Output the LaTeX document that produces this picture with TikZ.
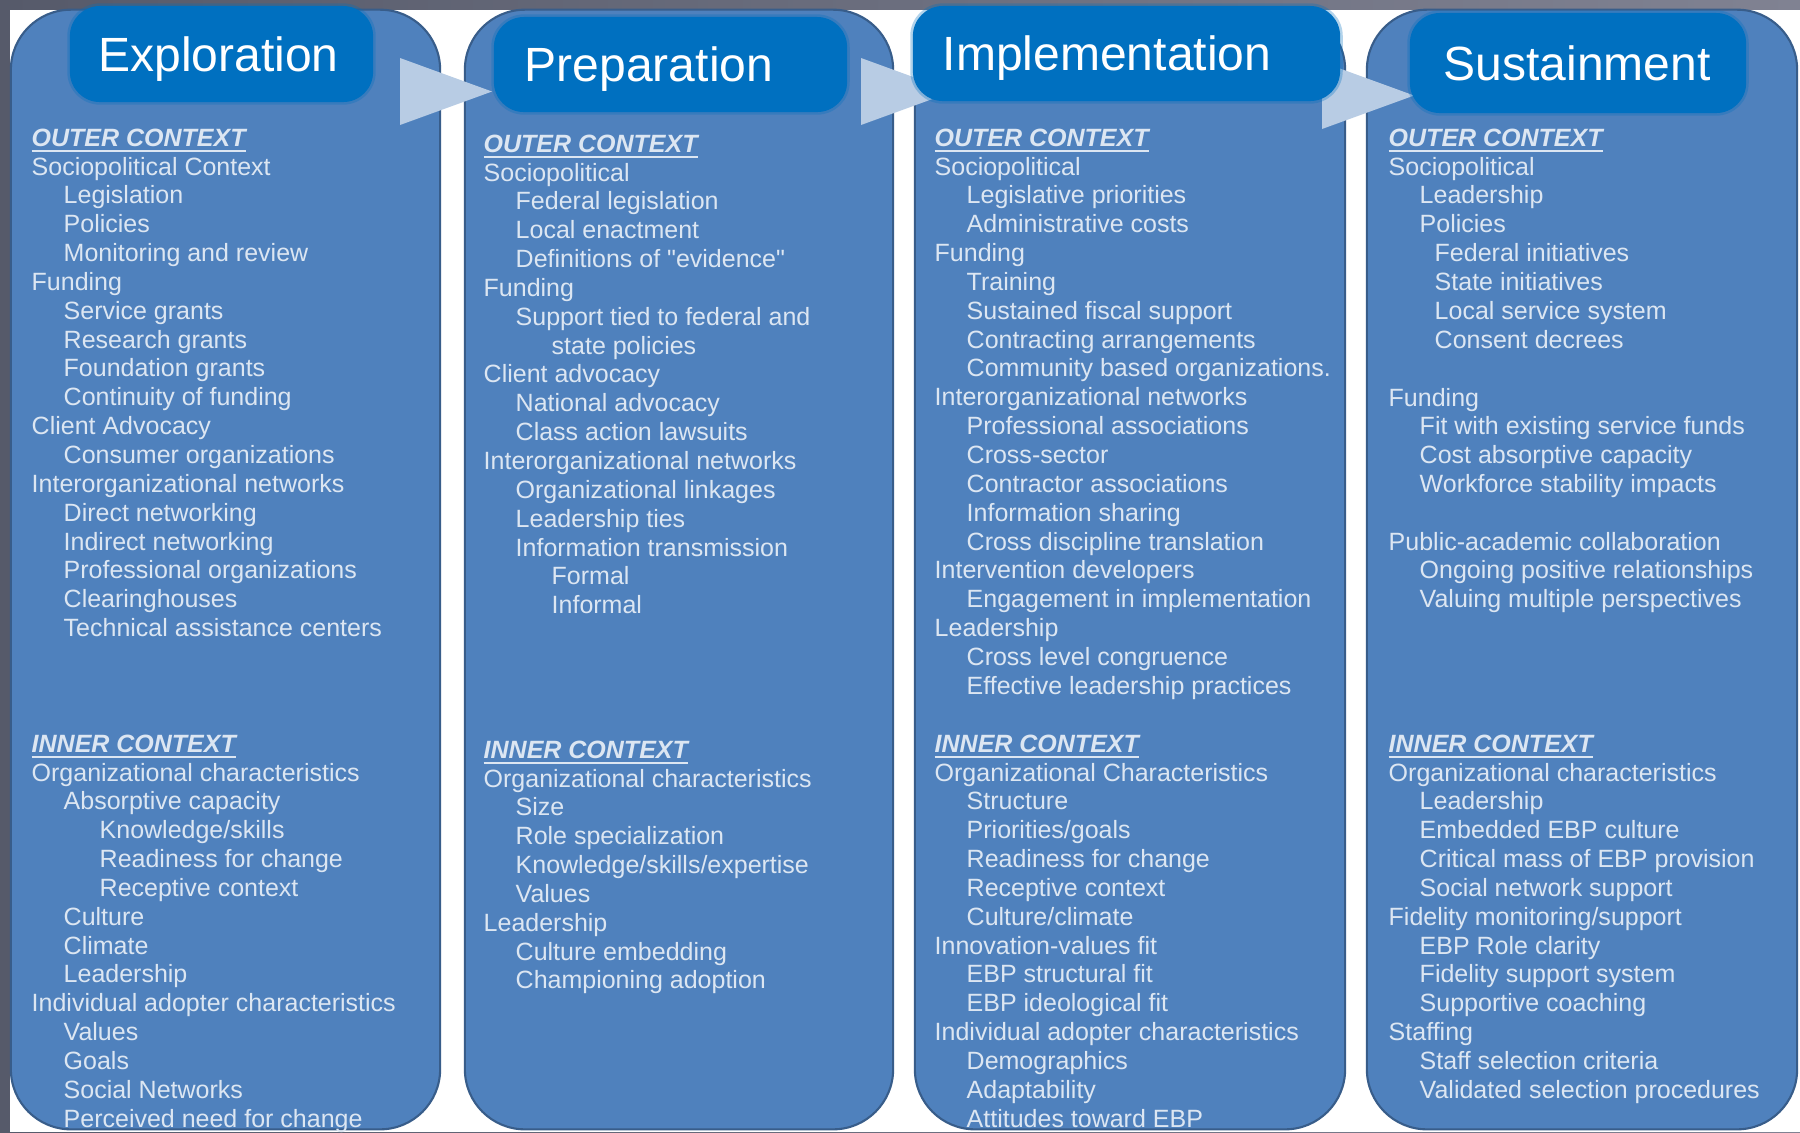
\documentclass[tikz,border=0pt]{standalone}
\usepackage{fontspec}
\setmainfont{Liberation Sans}
\usepackage{tikz}
\definecolor{eb_frame}{RGB}{86,90,106}
\definecolor{eb_frame_lt}{RGB}{128,130,146}
\definecolor{eb_panel}{RGB}{79,129,189}
\definecolor{eb_edge}{RGB}{56,93,138}
\definecolor{eb_title}{RGB}{0,112,192}
\definecolor{eb_arrow}{RGB}{184,204,228}
\definecolor{eb_text}{RGB}{220,230,242}
\tikzstyle{panel}=[rectangle,rounded corners=0.6cm,fill=eb_panel,draw=eb_edge,
  line width=0.6pt,inner sep=0pt,minimum width=4.29cm,minimum height=11.19cm]
\tikzstyle{phase}=[rectangle,rounded corners=0.3cm,fill=eb_title,draw=eb_title,
  draw opacity=0.3,line width=1.5pt,inner sep=0pt]
\tikzstyle{phaselabel}=[text=white,inner sep=0pt,text depth=0pt,
  font=\fontsize{13.66pt}{16pt}\selectfont]
\tikzstyle{entry}=[anchor=base west,inner sep=0pt,text=eb_text,
  font=\fontsize{7.11pt}{8.5pt}\selectfont]
\tikzstyle{ctxhead}=[style=entry,font=\fontsize{7.11pt}{8.5pt}\selectfont\bfseries\itshape]
\tikzstyle{none}=[]
% one column of list lines, 28.85 units apart
\newcommand{\entrycol}[4]{%
  \foreach \dx/\txt [count=\k] in {#4}
    \node [style=entry] (#1\k) at ({#2+\dx},{#3+28.85*(\k-1)}) {\txt};}

\begin{document}
\begin{tikzpicture}[x=0.01cm,y=-0.01cm]
            \useasboundingbox (0,0) rectangle (1800,1132);
            \fill [left color=eb_frame, right color=eb_frame_lt] (0,0) rectangle (1800,1132);
            \fill [white] (10,10) rectangle (1800,1132);
            % phase panels
            \node [style=panel] (expl) at (225.5,569.5) {};
            \node [style=panel, minimum width=4.28cm] (prep) at (679,569.5) {};
            \node [style=panel, minimum width=4.30cm] (impl) at (1130,569.5) {};
            \node [style=panel, minimum width=4.30cm] (sust) at (1582,569.5) {};
            % arrows between the phases
            \foreach \bx/\by in {400/58, 861/58, 1322/62}
              \fill [eb_arrow] (\bx,\by) -- ++(0,67) -- ++(92,-33.5) -- cycle;
            % phase titles
            \node [style=phase, minimum width=3.03cm, minimum height=0.96cm] (explT) at (221.5,54) {};
            \node [style=phase, minimum width=3.53cm, minimum height=0.95cm] (prepT) at (670.5,64.5) {};
            \node [style=phase, minimum width=4.27cm, minimum height=0.95cm] (implT) at (1126.5,53.5) {};
            \node [style=phase, minimum width=3.36cm, minimum height=1.00cm] (sustT) at (1578,63) {};
            \node [style=phaselabel] (explL) at (218.5,54) {Exploration};
            \node [style=phaselabel] (prepL) at (649,64.5) {Preparation};
            \node [style=phaselabel] (implL) at (1107,53.5) {Implementation};
            \node [style=phaselabel] (sustL) at (1577,63) {Sustainment};

            % Exploration
            \node [style=ctxhead] (eoH) at (31,146) {\underline{OUTER CONTEXT}};
            \entrycol{eo}{31}{175}{0/Sociopolitical Context, 32/Legislation, 32/Policies,
              32/Monitoring and review, 0/Funding, 32/Service grants, 32/Research grants,
              32/Foundation grants, 32/Continuity of funding, 0/Client Advocacy,
              32/Consumer organizations, 0/Interorganizational networks, 32/Direct networking,
              32/Indirect networking, 32/Professional organizations, 32/Clearinghouses,
              32/Technical assistance centers}
            \node [style=ctxhead] (eiH) at (31,752) {\underline{INNER CONTEXT}};
            \entrycol{ei}{31}{781}{0/Organizational characteristics, 32/Absorptive capacity,
              68/{Knowledge/skills}, 68/Readiness for change, 68/Receptive context, 32/Culture,
              32/Climate, 32/Leadership, 0/Individual adopter characteristics, 32/Values,
              32/Goals, 32/Social Networks, 32/Perceived need for change}

            % Preparation
            \node [style=ctxhead] (poH) at (483,152) {\underline{OUTER CONTEXT}};
            \entrycol{po}{483}{181}{0/Sociopolitical, 32/Federal legislation, 32/Local enactment,
              32/Definitions of \textquotedbl evidence\textquotedbl, 0/Funding,
              32/Support tied to federal and,
              68/state policies, 0/Client advocacy, 32/National advocacy,
              32/Class action lawsuits, 0/Interorganizational networks,
              32/Organizational linkages, 32/Leadership ties, 32/Information transmission,
              68/Formal, 68/Informal}
            \node [style=ctxhead] (piH) at (483,758) {\underline{INNER CONTEXT}};
            \entrycol{pi}{483}{787}{0/Organizational characteristics, 32/Size,
              32/Role specialization, 32/{Knowledge/skills/expertise}, 32/Values,
              0/Leadership, 32/Culture embedding, 32/Championing adoption}

            % Implementation
            \node [style=ctxhead] (ioH) at (934,146) {\underline{OUTER CONTEXT}};
            \entrycol{io}{934}{175}{0/Sociopolitical, 32/Legislative priorities,
              32/Administrative costs, 0/Funding, 32/Training, 32/Sustained fiscal support,
              32/Contracting arrangements, 32/Community based organizations.,
              0/Interorganizational networks, 32/Professional associations, 32/Cross-sector,
              32/Contractor associations, 32/Information sharing,
              32/Cross discipline translation, 0/Intervention developers,
              32/Engagement in implementation, 0/Leadership, 32/Cross level congruence,
              32/Effective leadership practices}
            \node [style=ctxhead] (iiH) at (934,752) {\underline{INNER CONTEXT}};
            \entrycol{ii}{934}{781}{0/Organizational Characteristics, 32/Structure,
              32/{Priorities/goals}, 32/Readiness for change, 32/Receptive context,
              32/{Culture/climate}, 0/Innovation-values fit, 32/EBP structural fit,
              32/EBP ideological fit, 0/Individual adopter characteristics,
              32/Demographics, 32/Adaptability, 32/Attitudes toward EBP}

            % Sustainment
            \node [style=ctxhead] (soH) at (1388,146) {\underline{OUTER CONTEXT}};
            \entrycol{so}{1388}{175}{0/Sociopolitical, 31/Leadership, 31/Policies,
              46/Federal initiatives, 46/State initiatives, 46/Local service system,
              46/Consent decrees}
            \entrycol{sf}{1388}{406}{0/Funding, 31/Fit with existing service funds,
              31/Cost absorptive capacity, 31/Workforce stability impacts}
            \entrycol{sp}{1388}{550}{0/Public-academic collaboration,
              31/Ongoing positive relationships, 31/Valuing multiple perspectives}
            \node [style=ctxhead] (siH) at (1388,752) {\underline{INNER CONTEXT}};
            \entrycol{si}{1388}{781}{0/Organizational characteristics, 31/Leadership,
              31/Embedded EBP culture, 31/Critical mass of EBP provision,
              31/Social network support, 0/{Fidelity monitoring/support},
              31/EBP Role clarity, 31/Fidelity support system, 31/Supportive coaching,
              0/Staffing, 31/Staff selection criteria, 31/Validated selection procedures}
    \end{tikzpicture}
\end{document}
